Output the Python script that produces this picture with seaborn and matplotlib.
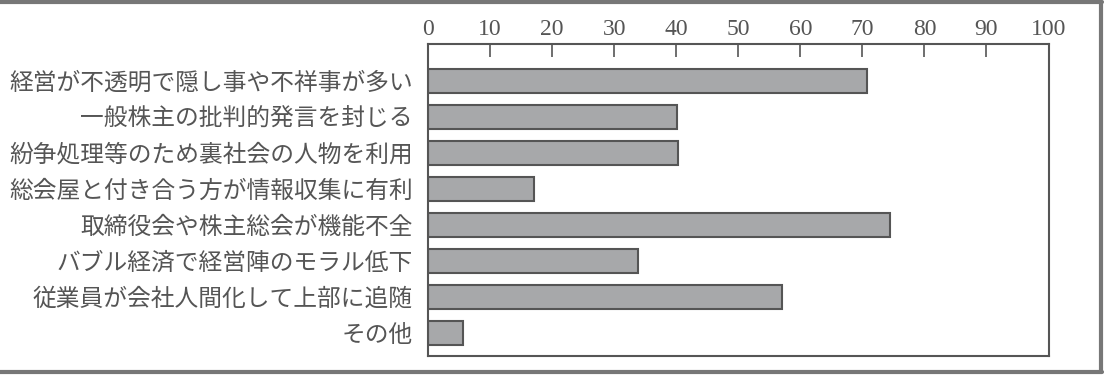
import matplotlib
matplotlib.use("Agg")
import matplotlib.pyplot as plt
import seaborn as sns
import pandas as pd
from matplotlib.lines import Line2D

categories = [
    "経営が不透明で隠し事や不祥事が多い",
    "一般株主の批判的発言を封じる",
    "紛争処理等のため裏社会の人物を利用",
    "総会屋と付き合う方が情報収集に有利",
    "取締役会や株主総会が機能不全",
    "バブル経済で経営陣のモラル低下",
    "従業員が会社人間化して上部に追随",
    "その他",
]
values = [70.8, 40.1, 40.3, 17.1, 74.4, 33.9, 57.1, 5.7]
x_ticks = [0, 10, 20, 30, 40, 50, 60, 70, 80, 90, 100]

sns.set_theme(style="white")
plt.rcParams["font.family"] = ["Noto Sans CJK JP", "DejaVu Sans"]

df = pd.DataFrame({"category": categories, "value": values})

fig = plt.figure(figsize=(11.08, 3.75), dpi=100)
ax = fig.add_axes([428 / 1108, 1 - 356 / 375, (1048.5 - 428) / 1108, (356 - 44) / 375])

sns.barplot(data=df, x="value", y="category", orient="h", color="#a7a8aa",
            saturation=1, edgecolor="#555555", linewidth=1.5, width=0.67, ax=ax)

ax.set_xlim(0, 100)
ax.set_ylim(7.65, -1.03)
ax.set_xlabel("")
ax.set_ylabel("")

ax.xaxis.tick_top()
ax.set_xticks(x_ticks)
ax.set_xticklabels([str(t) for t in x_ticks], family="Liberation Serif",
                   fontsize=17, color="#555555")
ax.tick_params(axis="x", direction="in", length=9.5, width=1.2, color="#555555",
               pad=3, top=True, bottom=False)
ax.tick_params(axis="y", length=0, pad=11, labelsize=17.1, labelcolor="#555555")

for s in ax.spines.values():
    s.set_visible(True)
    s.set_color("#555555")
    s.set_linewidth(1.5)

# outer frame of the figure
frame_kw = dict(color="#777777", linewidth=3, transform=fig.transFigure)
fig.add_artist(Line2D([0, 1102 / 1108], [1 - 2 / 375, 1 - 2 / 375], **frame_kw))
fig.add_artist(Line2D([1101 / 1108, 1101 / 1108], [1 - 2 / 375, 1 - 372 / 375], **frame_kw))
fig.add_artist(Line2D([0, 1102 / 1108], [1 - 372 / 375, 1 - 372 / 375], **frame_kw))

fig.savefig("out.png", dpi=100)
